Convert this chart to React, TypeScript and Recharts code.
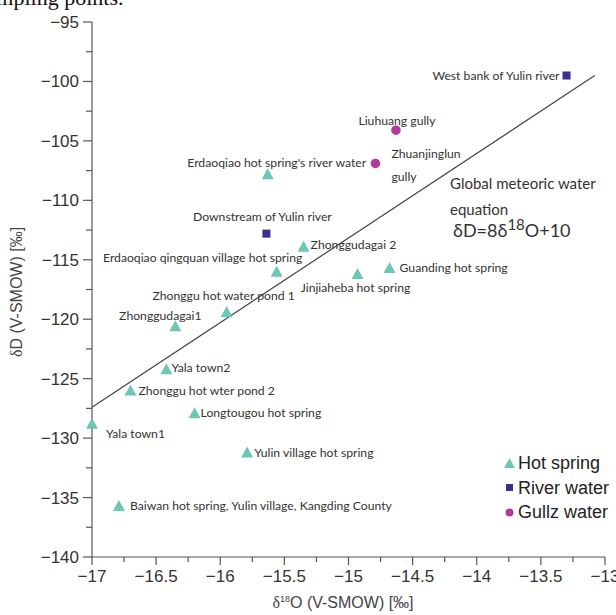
import { Legend, ReferenceLine, Scatter, ScatterChart, XAxis, YAxis } from 'recharts';

// hot spring samples
const hotSpringNames = [
  "Erdaoqiao hot spring's river water",
  'Zhonggudagai 2',
  'Erdaoqiao qingquan village hot spring',
  'Zhonggu hot water pond 1',
  'Zhonggudagai1',
  'Yala town2',
  'Zhonggu hot wter pond 2',
  'Longtougou hot spring',
  'Yala town1',
  'Yulin village hot spring',
  'Baiwan hot spring, Yulin village, Kangding County',
  'Jinjiaheba hot spring',
  'Guanding hot spring'
];
const hotSpringO = [-15.63, -15.35, -15.56, -15.95, -16.35, -16.42, -16.7, -16.2, -17.0, -15.79, -16.79, -14.93, -14.68];
const hotSpringD = [-107.8, -113.9, -116.0, -119.4, -120.6, -124.2, -126.0, -127.9, -128.8, -131.2, -135.7, -116.2, -115.7];

// river water samples
const riverNames = ['Downstream of Yulin river', 'West bank of Yulin river'];
const riverO = [-15.64, -13.3];
const riverD = [-112.8, -99.5];

// gully water samples
const gullyNames = ['Liuhuang gully', 'Zhuanjinglun gully'];
const gullyO = [-14.63, -14.79];
const gullyD = [-104.1, -106.9];

// meteoric water line, as drawn
const gmwlO = [-17, -13.08];
const gmwlD = [-127.4, -99.5];

const seriesNames = ['Hot spring', 'River water', 'Gullz water'];

const xTicks = [-17, -16.75, -16.5, -16.25, -16, -15.75, -15.5, -15.25, -15, -14.75, -14.5, -14.25, -14, -13.75, -13.5, -13.25, -13];
const yTicks = [-140, -137.5, -135, -132.5, -130, -127.5, -125, -122.5, -120, -117.5, -115, -112.5, -110, -107.5, -105, -102.5, -100, -97.5, -95];

const toRows = (names: string[], xs: number[], ys: number[]) => names.map((name, i) => ({ name, x: xs[i], y: ys[i] }));

const hotSpring = toRows(hotSpringNames, hotSpringO, hotSpringD);
const river = toRows(riverNames, riverO, riverD);
const gully = toRows(gullyNames, gullyO, gullyD);

// where each point label sits relative to its marker
const labelPlace: Record<string, { dx: number; dy: number; anchor: 'start' | 'middle' | 'end'; wrap?: boolean }> = {
  "Erdaoqiao hot spring's river water": { dx: 9, dy: -11, anchor: 'middle' },
  'Zhonggudagai 2': { dx: 7, dy: -2, anchor: 'start' },
  'Erdaoqiao qingquan village hot spring': { dx: -74, dy: -14, anchor: 'middle' },
  'Zhonggu hot water pond 1': { dx: -3, dy: -16, anchor: 'middle' },
  'Zhonggudagai1': { dx: -15, dy: -11, anchor: 'middle' },
  'Yala town2': { dx: 5, dy: -1, anchor: 'start' },
  'Zhonggu hot wter pond 2': { dx: 8, dy: 0, anchor: 'start' },
  'Longtougou hot spring': { dx: 6, dy: 0, anchor: 'start' },
  'Yala town1': { dx: 14, dy: 10, anchor: 'start' },
  'Yulin village hot spring': { dx: 7, dy: 0, anchor: 'start' },
  'Baiwan hot spring, Yulin village, Kangding County': { dx: 11, dy: 0, anchor: 'start' },
  'Jinjiaheba hot spring': { dx: -2, dy: 14, anchor: 'middle' },
  'Guanding hot spring': { dx: 10, dy: 0, anchor: 'start' },
  'Downstream of Yulin river': { dx: -4, dy: -17, anchor: 'middle' },
  'West bank of Yulin river': { dx: -7, dy: 0, anchor: 'end' },
  'Liuhuang gully': { dx: 1, dy: -9, anchor: 'middle' },
  'Zhuanjinglun gully': { dx: 16, dy: -10, anchor: 'start', wrap: true }
};

const TEAL = '#6cc7b4';
const NAVY = '#3e2c8e';
const MAGENTA = '#b13a9b';
const labelFont = 'Lato, "Open Sans", sans-serif';
const axisFont = '"Liberation Sans", Arial, sans-serif';

const fmt = (v: number) => (v < 0 ? '\u2212' + String(Math.abs(v)) : String(v));

const PointLabel = ({ cx, cy, name }: { cx: number; cy: number; name: string }) => {
  const p = labelPlace[name] || { dx: 8, dy: 0, anchor: 'start' };
  const lines = p.wrap ? name.split(' ') : [name];
  return (
    <>
      {lines.map((line, i) => (
        <text
          key={i}
          x={cx + p.dx}
          y={cy + p.dy + i * 23}
          dy="0.35em"
          textAnchor={p.anchor}
          fontFamily={labelFont}
          fontSize={12.2}
          fill="#333"
        >
          {line}
        </text>
      ))}
    </>
  );
};

const triangleShape = (props: any) => {
  const { cx, cy, payload } = props;
  return (
    <g>
      <polygon points={`${cx},${cy - 6} ${cx + 6},${cy + 5} ${cx - 6},${cy + 5}`} fill={TEAL} />
      <PointLabel cx={cx} cy={cy} name={payload.name} />
    </g>
  );
};

const squareShape = (props: any) => {
  const { cx, cy, payload } = props;
  return (
    <g>
      <rect x={cx - 4} y={cy - 4} width={8} height={8} fill={NAVY} />
      <PointLabel cx={cx} cy={cy} name={payload.name} />
    </g>
  );
};

const circleShape = (props: any) => {
  const { cx, cy, payload } = props;
  return (
    <g>
      <circle cx={cx} cy={cy} r={4.8} fill={MAGENTA} />
      <PointLabel cx={cx} cy={cy} name={payload.name} />
    </g>
  );
};

const XTick = (props: any) => {
  const { x, y, payload } = props;
  const v = payload.value;
  const major = Math.abs(v * 2 - Math.round(v * 2)) < 1e-6;
  return (
    <g>
      <line x1={x} x2={x} y1={y} y2={y + (major ? 8 : 5)} stroke="#555" strokeWidth={1.2} />
      {major && (
        <text x={x} y={y + 13} dy="0.71em" textAnchor="middle" fontFamily={axisFont} fontSize={17} fill="#333">
          {fmt(v)}
        </text>
      )}
    </g>
  );
};

const YTick = (props: any) => {
  const { x, y, payload } = props;
  const v = payload.value;
  const major = Math.abs(v / 5 - Math.round(v / 5)) < 1e-6;
  return (
    <g>
      <line x1={x - (major ? 9 : 6)} x2={x} y1={y} y2={y} stroke="#555" strokeWidth={1.2} />
      {major && (
        <text x={x - 13} y={y} dy="0.35em" textAnchor="end" fontFamily={axisFont} fontSize={17} fill="#333">
          {fmt(v)}
        </text>
      )}
    </g>
  );
};

const legendIcon = (type: string, color: string) => {
  if (type === 'triangle')
    return (
      <svg width={13} height={13} style={{ marginRight: 2 }}>
        <polygon points="6.5,1 12,11 1,11" fill={color} />
      </svg>
    );
  if (type === 'square')
    return (
      <svg width={13} height={13} style={{ marginRight: 2 }}>
        <rect x={3} y={3} width={7} height={7} fill={color} />
      </svg>
    );
  return (
    <svg width={13} height={13} style={{ marginRight: 2 }}>
      <circle cx={6.5} cy={6.5} r={4} fill={color} />
    </svg>
  );
};

const renderLegend = (props: any) => {
  const items = [...(props.payload || [])].sort(
    (a: any, b: any) => seriesNames.indexOf(a.value) - seriesNames.indexOf(b.value)
  );
  return (
    <div style={{ fontFamily: axisFont, fontSize: 18, color: '#222', lineHeight: '24.5px' }}>
      {items.map((entry: any) => (
        <div key={entry.value} style={{ display: 'flex', alignItems: 'center' }}>
          {legendIcon(entry.type, entry.color)}
          <span>{entry.value}</span>
        </div>
      ))}
    </div>
  );
};

export default function App() {
  return (
    <div style={{ position: 'absolute', left: 0, top: 0, width: 616, height: 615, background: '#fff', overflow: 'hidden' }}>
      <div
        style={{
          position: 'absolute',
          left: -22,
          top: -13,
          fontFamily: '"Liberation Serif", "Times New Roman", serif',
          fontSize: 22,
          lineHeight: 1,
          color: '#111',
          whiteSpace: 'nowrap'
        }}
      >
        sampling points.
      </div>
      <ScatterChart width={616} height={615} margin={{ top: 22, right: 11, bottom: 28, left: 32 }}>
        <XAxis
          type="number"
          dataKey="x"
          domain={[-17, -13]}
          ticks={xTicks}
          interval={0}
          tickLine={false}
          tickSize={0}
          tickMargin={0}
          tick={<XTick />}
          axisLine={{ stroke: '#555', strokeWidth: 1.2 }}
          height={30}
        />
        <YAxis
          type="number"
          dataKey="y"
          domain={[-140, -95]}
          ticks={yTicks}
          interval={0}
          tickLine={false}
          tickSize={0}
          tickMargin={0}
          tick={<YTick />}
          axisLine={{ stroke: '#555', strokeWidth: 1.2 }}
          width={60}
        />
        <ReferenceLine
          segment={[
            { x: gmwlO[0], y: gmwlD[0] },
            { x: gmwlO[1], y: gmwlD[1] }
          ]}
          stroke="#444"
          strokeWidth={1.2}
        />
        <Scatter name={seriesNames[0]} data={hotSpring} fill={TEAL} legendType="triangle" shape={triangleShape} isAnimationActive={false} />
        <Scatter name={seriesNames[1]} data={river} fill={NAVY} legendType="square" shape={squareShape} isAnimationActive={false} />
        <Scatter name={seriesNames[2]} data={gully} fill={MAGENTA} legendType="circle" shape={circleShape} isAnimationActive={false} />
        <Legend
          layout="vertical"
          align="center"
          verticalAlign="middle"
          content={renderLegend}
          wrapperStyle={{ left: 503, top: 451, width: 120 }}
        />
      </ScatterChart>
      <div
        style={{
          position: 'absolute',
          left: 17,
          top: 292,
          transform: 'translate(-50%, -50%) rotate(-90deg)',
          fontFamily: axisFont,
          fontSize: 16,
          color: '#444',
          whiteSpace: 'nowrap'
        }}
      >
        <span style={{ fontFamily: '"Liberation Serif", serif' }}>δ</span>D (V-SMOW) [‰]
      </div>
      <div
        style={{
          position: 'absolute',
          left: 343,
          top: 603,
          transform: 'translate(-50%, -50%)',
          fontFamily: axisFont,
          fontSize: 16,
          color: '#444',
          whiteSpace: 'nowrap'
        }}
      >
        <span style={{ fontFamily: '"Liberation Serif", serif' }}>δ</span>
        <sup style={{ fontSize: 9 }}>18</sup>O (V-SMOW) [‰]
      </div>
      <div
        style={{
          position: 'absolute',
          left: 450,
          top: 170,
          fontFamily: labelFont,
          fontSize: 15,
          color: '#333',
          lineHeight: '26px',
          whiteSpace: 'nowrap'
        }}
      >
        <div>Global meteoric water</div>
        <div>equation</div>
        <div style={{ fontSize: 18, marginTop: -4, marginLeft: 3, lineHeight: '24px' }}>
          δD=8δ<span style={{ position: 'relative', top: -7, fontSize: 15 }}>18</span>O+10
        </div>
      </div>
    </div>
  );
}
